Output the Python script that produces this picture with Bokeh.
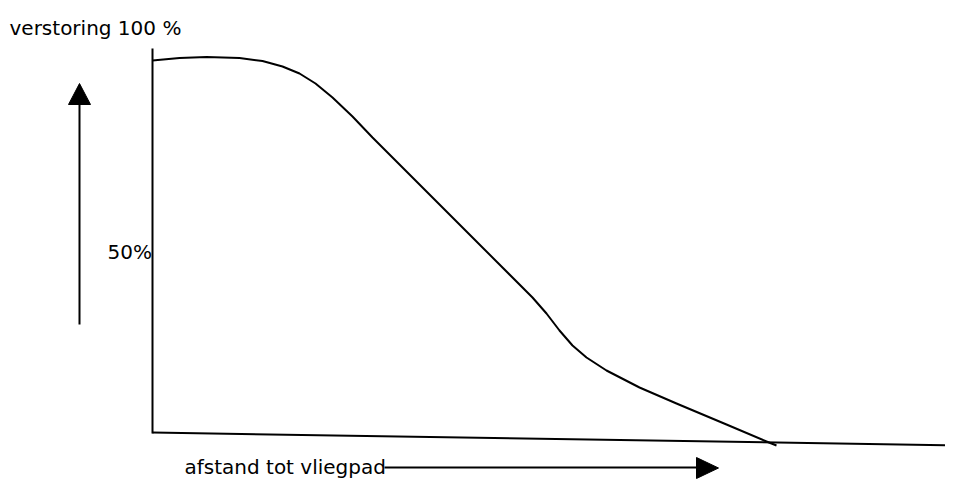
from bokeh.plotting import figure
from bokeh.models import Range1d
from bokeh.core.properties import value
from bokeh.embed import file_html
from bokeh.resources import INLINE

# Conceptual diagram: coordinates in drawing units (x right, y down)
curve_x = [153, 180, 207, 240, 263, 283, 300, 316, 333, 353, 373, 400, 433, 467, 500, 533, 547, 560, 573, 587, 607, 640, 677, 727, 767, 777]
curve_y = [61, 58.5, 57.5, 58.5, 61.5, 67, 74, 84, 98, 117, 138, 165, 198, 232, 265, 298, 314, 331, 346, 358, 371, 388, 404, 425, 442, 446]

yaxis_x = [153, 153]
yaxis_y = [49, 434]
base_x = [153, 961]
base_y = [433, 446]

up_arrow_x = [80, 80]
up_arrow_y = [325, 100]
up_head_x = [69, 91, 80]
up_head_y = [105, 105, 84]

right_arrow_x = [385, 700]
right_arrow_y = [468, 468]
right_head_x = [697, 697, 719]
right_head_y = [458, 479, 468.5]

labels = ["verstoring 100 %", "50%", "afstand tot vliegpad"]
label_x = [10, 108, 185]
label_y = [28, 252, 467]

p = figure(width=945, height=484, output_backend="svg", toolbar_location=None,
           x_range=Range1d(1, 946), y_range=Range1d(485, 1), min_border=0)
p.axis.visible = False
p.grid.visible = False
p.outline_line_color = None
p.background_fill_color = "white"

p.line(curve_x, curve_y, line_color="black", line_width=2, line_join="round")
p.line(yaxis_x, yaxis_y, line_color="black", line_width=2)
p.line(base_x, base_y, line_color="black", line_width=2)
p.line(up_arrow_x, up_arrow_y, line_color="black", line_width=2)
p.patch(up_head_x, up_head_y, fill_color="black", line_color="black")
p.line(right_arrow_x, right_arrow_y, line_color="black", line_width=2)
p.patch(right_head_x, right_head_y, fill_color="black", line_color="black")

p.text(x=label_x, y=label_y, text=labels, text_font=value("DejaVu Sans"),
       text_font_size="20px", text_baseline="middle", text_align="left", text_color="black")

open("out.html", "w").write(file_html(p, INLINE))
